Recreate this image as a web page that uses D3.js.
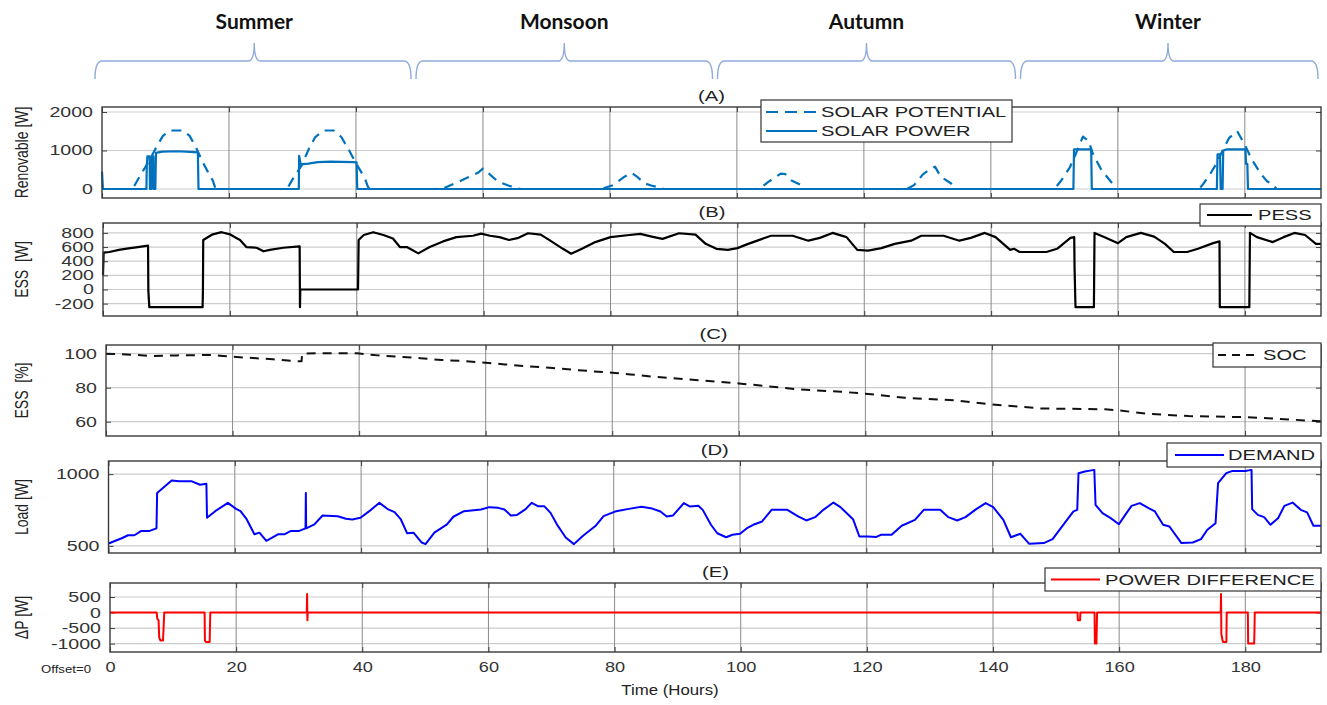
<!DOCTYPE html>
<html>
<head>
<meta charset="utf-8">
<script src="https://cdn.jsdelivr.net/npm/d3@7"></script>
<style>
  body { margin: 0; background: #fff; }
  svg text { font-family: "Liberation Sans", Arial, sans-serif; }
</style>
</head>
<body>
<svg id="chart"></svg>
<script>
// ---- data (hours, value) ----
var hourTicks = [0, 20, 40, 60, 80, 100, 120, 140, 160, 180]
var seasons = ['Summer', 'Monsoon', 'Autumn', 'Winter']
var seasonStart = [0, 48, 96, 144]

var solarPotential = [[0,0],[4.8,0],[5.5,200],[6.5,480],[7.5,750],[8.6,1100],[9.6,1380],[10.7,1520],[12.8,1520],[13.8,1380],[14.8,1080],[15.8,720],[16.6,470],[17.5,200],[17.9,0],
  [28.6,0],[29.3,50],[30.2,300],[31.4,600],[32.6,1050],[33.6,1350],[34.9,1520],[36.5,1520],[37.7,1350],[39,980],[40,670],[41.4,280],[41.9,50],[42.2,0],
  [52.5,0],[54,30],[55.5,140],[57.5,290],[59.2,420],[60,530],[60.8,420],[62.3,200],[64,90],[65.5,10],[66,0],
  [77.8,0],[79,20],[80.5,100],[82.3,320],[83.4,420],[84.2,330],[85.4,150],[86.5,90],[87.5,50],[88.5,0],
  [103.3,0],[104,60],[104.9,180],[106.9,400],[107.6,390],[108.6,220],[110,110],[110.8,0],
  [126.8,0],[127.9,100],[129.3,380],[130.3,500],[131.2,580],[132.1,320],[133.7,150],[134.3,0],
  [150,0],[151,200],[152.4,550],[153.1,800],[154.5,1360],[155.4,1250],[156.1,900],[157.4,500],[159.1,150],[159.8,0],
  [172.8,0],[173.4,120],[174.4,350],[175.5,650],[176.5,1000],[177.5,1320],[178.8,1500],[180,1150],[181,800],[182.4,420],[183.5,200],[184.4,130],[185,0],
  [192,0]]

var solarPower = [[0,450],[0.15,0],[7,0],[7.05,600],[7.15,850],[7.5,850],[7.55,0],[7.8,0],[7.85,850],[8.1,850],[8.15,0],[8.4,0],[8.5,940],[9.5,970],[12,980],[14.5,960],[15.1,950],[15.2,0],
  [31,0],[31.05,860],[31.3,640],[32.5,660],[34,700],[36,710],[39.5,700],[40.1,690],[40.2,0],
  [153,0],[153.1,1030],[155.8,1030],[155.9,0],
  [175.6,0],[175.7,900],[176.1,900],[176.2,0],[176.5,0],[176.6,1000],[177.2,1030],[180.1,1030],[180.2,650],[180.4,650],[180.5,0],[192,0]]

var pess = [[0,200],[0.1,520],[1,530],[2.5,560],[4,580],[5.5,600],[7.1,620],[7.15,-20],[7.3,-250],[15.7,-250],[15.75,-30],[15.8,700],[17.3,780],[18.7,810],[20,780],[20.6,750],[21.6,700],[22.6,600],[24.2,590],[25.3,540],[26.3,560],[28.4,590],[31,610],[31.05,-250],[31.1,0],
  [40.2,0],[40.3,700],[41.1,770],[42.6,810],[44.2,770],[45.7,720],[46.8,600],[47.9,600],[49.7,510],[51.5,600],[53.6,680],[55.7,740],[58.3,760],[59.6,790],[61,760],[62.5,740],[64,700],[65.5,730],[67,795],[69,776],[70.5,690],[72.5,575],[73.8,505],[75.5,575],[77.6,670],[80,740],[83,770],[84.7,786],[86.5,748],[88.2,715],[90.8,795],[93.4,776],[95,645],[96.7,575],[98.5,560],[100,585],[101.7,645],[105.3,760],[108.7,760],[111.2,690],[113,730],[115,800],[117.2,740],[118.9,560],[120.6,550],[122.7,585],[124.8,645],[127.4,690],[129,760],[132.5,760],[135,690],[136.8,730],[139,800],[140.7,740],[143,560],[143.6,575],[144.5,530],[148.7,530],[150.4,575],[152.5,730],[153.1,740],[153.15,316],[153.3,-250],
  [156.2,-250],[156.3,800],[157.9,740],[160,655],[161.3,740],[163.6,800],[165.7,748],[167.4,645],[168.8,530],[170.9,530],[172.6,575],[175,655],[176,680],[176.05,-250],[180.7,-250],[180.8,800],[181.9,740],[184.4,670],[186.1,740],[187.8,800],[189.5,770],[191.2,645],[192,645]]

var soc = [[0,100],[2.5,99.6],[5,99.2],[7.2,98.6],[11.2,99],[16.5,99.2],[18,98.8],[20,98.2],[23.8,97.3],[26.4,96.7],[29.8,95.7],[30.9,95.5],[31,100],[33.1,100.2],[39.7,100.2],[43,99],[46.4,98.2],[49.7,97.3],[53,96.3],[56.3,95.7],[60,94.7],[63,93.7],[66.3,92.7],[69.6,91.8],[73,90.8],[76.3,89.8],[80,88.8],[82.9,87.8],[86.9,86.3],[94.1,84.3],[100,82.5],[104.2,81],[109.5,79],[116.2,77.6],[120,76.5],[126.2,74.1],[134.4,72.5],[140,70.2],[147.7,67.8],[157.9,67.3],[160,66.7],[164.4,64.7],[171.1,63.3],[180,62.7],[184.8,61.8],[192,60.2]]

var demand = [[0,516],[2.1,553],[3.1,574],[4.1,574],[5.2,604],[6.5,604],[7.6,622],[7.7,869],[8.8,910],[10,956],[11.2,950],[13.2,950],[14.5,926],[15.5,933],[15.6,696],[16.9,742],[18.9,800],[20.2,758],[20.9,742],[21.9,684],[23.1,581],[23.9,592],[25,535],[26.9,581],[27.9,581],[28.9,604],[30.2,604],[31.2,622],[31.25,869],[31.3,622],[32.6,650],[33.9,712],[36.3,707],[37.6,689],[38.6,684],[39.9,696],[41.3,742],[42.9,800],[44.3,754],[45.3,735],[46.3,684],[47.3,587],[48.3,592],[49.6,523],[50.2,512],[51.6,592],[53.6,650],[54.6,703],[56.3,742],[59,754],[60.3,770],[61.7,765],[62.7,754],[63.7,712],[64.7,716],[66,754],[67,800],[68,777],[69,777],[70,730],[71,650],[72.4,558],[73.7,512],[75.1,569],[77.1,638],[78.4,707],[80.4,742],[82.4,758],[84.4,772],[86.1,760],[87.4,740],[88.4,705],[89.4,712],[91.1,798],[92.1,774],[93.4,779],[94.1,751],[95.4,647],[96.4,588],[97.8,560],[98.8,577],[100,584],[101.1,623],[102.1,647],[103.5,670],[105,751],[107.5,751],[109.2,705],[110.5,677],[111.9,700],[113.2,751],[114.8,802],[115.9,770],[117.9,686],[118.9,565],[120.3,565],[121.6,562],[122.3,577],[124,577],[125.6,640],[127.7,681],[129.1,751],[131.7,751],[133,700],[134.4,677],[135.7,700],[137.4,756],[138.9,798],[140.1,770],[141.7,681],[142.9,560],[144.4,584],[145.8,514],[148.1,519],[149.5,547],[150.8,623],[152.8,740],[153.4,751],[153.6,1007],[154.6,1019],[156.1,1030],[156.3,786],[157.4,728],[158.7,693],[160,651],[161,716],[162,779],[163.3,798],[164.7,763],[165.7,740],[167,647],[168,635],[169.9,519],[171.7,523],[173,547],[174,612],[175.3,658],[175.7,937],[177,1007],[178,1023],[180,1023],[181,1030],[181.1,756],[182,716],[183,700],[184,647],[185.2,693],[186.2,779],[187.5,802],[188.8,751],[189.8,733],[190.8,640],[192,640]]

var powerDiff = [[0,0],[7.4,0],[7.5,-200],[7.7,-250],[7.8,-800],[8,-900],[8.4,-900],[8.5,-500],[8.6,0],[15,0],[15.05,-900],[15.2,-950],[15.8,-950],[15.9,0],
  [31.2,0],[31.25,600],[31.3,-250],[31.35,0],
  [153.4,0],[153.45,-250],[153.8,-250],[153.85,0],[156.1,0],[156.15,-1000],[156.4,-1000],[156.45,-500],[156.5,0],
  [176.1,0],[176.15,600],[176.2,-700],[176.4,-900],[176.5,-950],[177,-950],[177.05,0],
  [180.4,0],[180.45,-1000],[181.4,-1000],[181.45,-600],[181.5,0],[192,0]]

// ---- layout ----
const width = 1327
const height = 705
const RIGHT = 1321

var svg = d3.select('#chart').attr('width', width).attr('height', height)

var panels = [
  { name: '(A)', left: 102, top: 107, bottom: 198, domain: [-234, 2130], ticks: [0, 1000, 2000], label: 'Renovable [W]' },
  { name: '(B)', left: 103, top: 223, bottom: 316, domain: [-375, 940], ticks: [-200, 0, 200, 400, 600, 800], label: 'ESS\u00a0 [W]' },
  { name: '(C)', left: 106, top: 345, bottom: 436, domain: [51.6, 105.1], ticks: [60, 80, 100], label: 'ESS\u00a0 [%]' },
  { name: '(D)', left: 108.5, top: 461, bottom: 553, domain: [450, 1092], ticks: [500, 1000], label: 'Load [W]' },
  { name: '(E)', left: 110, top: 583, bottom: 652, domain: [-1270, 950], ticks: [-1000, -500, 0, 500], label: '\u0394P [W]' }
]

// plain integer labels with hyphen minus, as in the source
var plain = d => String(d)

// stretch text horizontally (the source figure is widened)
function stretch (sel, sx) {
  sel.each(function () {
    var t = d3.select(this)
    var tx = +t.attr('x') || 0
    var ty = +t.attr('y') || 0
    t.attr('x', 0).attr('y', 0).attr('transform', 'translate(' + tx + ',' + ty + ') scale(' + sx + ',1)')
  })
}

// season braces (the drawn braces are not evenly spaced)
var bx = d3.scaleLinear().domain([0, 48, 96, 144, 192]).range([95, 413.5, 715, 1018, 1318])
seasons.forEach(function (s, i) {
  var a = bx(seasonStart[i]) + (i === 0 ? 0 : 2.5)
  var b = bx(seasonStart[i] + 48) - (i === 3 ? 0 : 2.5)
  var m = (bx(seasonStart[i]) + bx(seasonStart[i] + 48)) / 2
  var yEnd = 79, yMid = 61, yTip = 43
  var d = 'M' + a + ',' + yEnd + ' Q' + a + ',' + yMid + ' ' + (a + 7) + ',' + yMid +
    ' L' + (m - 6) + ',' + yMid + ' Q' + m + ',' + yMid + ' ' + m + ',' + yTip +
    ' Q' + m + ',' + yMid + ' ' + (m + 6) + ',' + yMid +
    ' L' + (b - 7) + ',' + yMid + ' Q' + b + ',' + yMid + ' ' + b + ',' + yEnd
  svg.append('path').attr('d', d).attr('fill', 'none')
    .attr('stroke', '#8faadc').attr('stroke-width', 1.4)
  svg.append('text').attr('x', m).attr('y', 29).attr('text-anchor', 'middle')
    .style('font-family', 'Lato, "Open Sans", sans-serif').style('font-weight', 700)
    .attr('font-size', 21).attr('fill', '#111').text(s)
})

function drawPanel (p, isBottom) {
  var x = d3.scaleLinear().domain([0, 192]).range([p.left, RIGHT])
  var y = d3.scaleLinear().domain(p.domain).range([p.bottom, p.top])
  var g = svg.append('g')

  // gridlines
  g.append('g').selectAll('line').data(p.ticks).enter().append('line')
    .attr('x1', p.left).attr('x2', RIGHT)
    .attr('y1', d => y(d)).attr('y2', d => y(d))
    .attr('stroke', '#cdcdcd').attr('stroke-width', 1.2)
  g.append('g').selectAll('line').data(hourTicks.filter(h => h > 0)).enter().append('line')
    .attr('x1', d => x(d)).attr('x2', d => x(d))
    .attr('y1', p.top).attr('y2', p.bottom)
    .attr('stroke', '#8a8a8a').attr('stroke-width', 1)

  // axes with inner ticks
  var yAx = g.append('g').attr('transform', 'translate(' + p.left + ',0)')
    .call(d3.axisLeft(y).tickValues(p.ticks).tickSize(-5).tickSizeOuter(0).tickPadding(9).tickFormat(plain))
  g.append('g').attr('transform', 'translate(' + RIGHT + ',0)')
    .call(d3.axisRight(y).tickValues(p.ticks).tickSize(-5).tickSizeOuter(0).tickFormat(''))
  var xAx = g.append('g').attr('transform', 'translate(0,' + p.bottom + ')')
    .call(d3.axisBottom(x).tickValues(hourTicks).tickSize(-5).tickSizeOuter(0).tickPadding(10)
      .tickFormat(isBottom ? plain : ''))
  g.append('g').attr('transform', 'translate(0,' + p.top + ')')
    .call(d3.axisTop(x).tickValues(hourTicks).tickSize(-5).tickSizeOuter(0).tickFormat(''))
  g.selectAll('.domain').remove()
  g.selectAll('.tick line').attr('stroke', '#404040')
  g.selectAll('.tick text').attr('font-size', 14).attr('fill', '#333')
    .style('font-family', '"Liberation Sans", Arial, sans-serif')
  stretch(yAx.selectAll('text'), 1.4)
  stretch(xAx.selectAll('text'), 1.3)

  // title and y label
  g.append('text').attr('x', (p.left + RIGHT) / 2).attr('y', p.top - 6)
    .attr('text-anchor', 'middle').attr('font-size', 15).attr('fill', '#222').text(p.name)
    .call(stretch, 1.35)
  g.append('text')
    .attr('transform', 'translate(22,' + (p.top + p.bottom) / 2 + ') rotate(-90) scale(1,1.3)')
    .attr('text-anchor', 'middle').attr('dy', '0.35em')
    .attr('font-size', 14).attr('fill', '#222').text(p.label)

  return { x: x, y: y, g: g }
}

function drawFrame (p) {
  svg.append('rect').attr('x', p.left).attr('y', p.top)
    .attr('width', RIGHT - p.left).attr('height', p.bottom - p.top)
    .attr('fill', 'none').attr('stroke', '#3a3a3a').attr('stroke-width', 1.4)
}

function drawSeries (pan, data, color, w, dash) {
  var line = d3.line().x(d => pan.x(d[0])).y(d => pan.y(d[1]))
  pan.g.append('path').datum(data).attr('d', line)
    .attr('fill', 'none').attr('stroke', color).attr('stroke-width', w)
    .attr('stroke-linejoin', 'round')
    .attr('stroke-dasharray', dash || null)
}

// legend box: [x0, y0, x1, y1], line from lx0 to lx1, text at tx
function drawLegend (box, lx0, lx1, tx, rows) {
  var lg = svg.append('g')
  lg.append('rect').attr('x', box[0]).attr('y', box[1])
    .attr('width', box[2] - box[0]).attr('height', box[3] - box[1])
    .attr('fill', '#fff').attr('stroke', '#333').attr('stroke-width', 1.2)
  rows.forEach(function (r) {
    lg.append('line').attr('x1', lx0).attr('x2', lx1).attr('y1', r.y).attr('y2', r.y)
      .attr('stroke', r.color).attr('stroke-width', 2).attr('stroke-dasharray', r.dash || null)
    lg.append('text').attr('x', tx).attr('y', r.y).attr('dy', '0.36em')
      .attr('font-size', 15).attr('fill', '#222').text(r.label)
      .call(stretch, 1.34)
  })
}

var pA = drawPanel(panels[0], false)
drawSeries(pA, solarPotential, '#0072bd', 2.2, '10,7')
drawSeries(pA, solarPower, '#0072bd', 2.2)
drawFrame(panels[0])

var pB = drawPanel(panels[1], false)
drawSeries(pB, pess, '#000', 2.2)
drawFrame(panels[1])

var pC = drawPanel(panels[2], false)
drawSeries(pC, soc, '#111', 2, '9,7')
drawFrame(panels[2])

var pD = drawPanel(panels[3], false)
drawSeries(pD, demand, '#0000ff', 2)
drawFrame(panels[3])

var pE = drawPanel(panels[4], true)
drawSeries(pE, powerDiff, '#ff0000', 2)
drawFrame(panels[4])

drawLegend([761, 100, 1012, 142], 766, 817, 821, [
  { y: 112, label: 'SOLAR POTENTIAL', color: '#0072bd', dash: '12,7' },
  { y: 131, label: 'SOLAR POWER', color: '#0072bd' }])
drawLegend([1200, 204, RIGHT, 226], 1207, 1252, 1258, [
  { y: 215, label: 'PESS', color: '#000' }])
drawLegend([1213, 343, RIGHT, 367], 1218, 1259, 1263, [
  { y: 355, label: 'SOC', color: '#111', dash: '8,6' }])
drawLegend([1167, 443, RIGHT, 467], 1175, 1224, 1228, [
  { y: 455, label: 'DEMAND', color: '#0000ff' }])
drawLegend([1045, 568, RIGHT, 591], 1051, 1100, 1105, [
  { y: 579.5, label: 'POWER DIFFERENCE', color: '#ff0000' }])

// bottom texts
svg.append('text').attr('x', 66).attr('y', 673).attr('text-anchor', 'middle')
  .attr('font-size', 11).attr('fill', '#222').text('Offset=0').call(stretch, 1.2)
svg.append('text').attr('x', 670).attr('y', 695).attr('text-anchor', 'middle')
  .attr('font-size', 14).attr('fill', '#222').text('Time (Hours)').call(stretch, 1.2)
</script>
</body>
</html>
